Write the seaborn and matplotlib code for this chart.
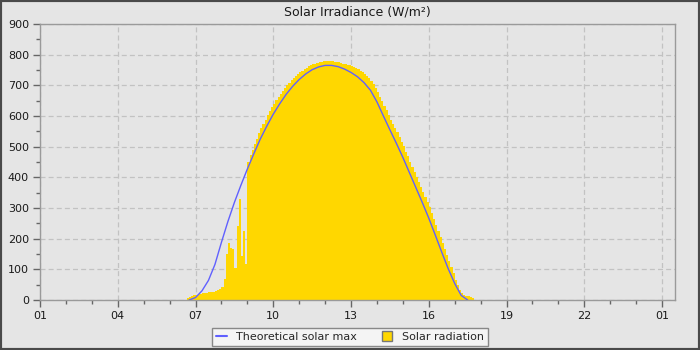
import numpy as np
import pandas as pd
import matplotlib
matplotlib.use("Agg")
import matplotlib.pyplot as plt
import seaborn as sns
from matplotlib.lines import Line2D
from matplotlib.patches import Rectangle
from matplotlib.ticker import MultipleLocator, FixedLocator

# ---------------- data ----------------
# Theoretical solar max, every 15 minutes starting 06:45
theo_start_hour = 6.75
theo_step_hours = 0.25
theo_max = [0, 8, 30, 64, 116, 188, 256, 318, 374, 427,
            477, 525, 567, 606, 640, 671, 697, 719, 737, 751,
            760, 765, 765, 761, 753, 742, 728, 709, 684, 646,
            600, 555, 511, 465, 416, 367, 318, 267, 212, 156,
            102, 54, 15, 0]

# Measured solar radiation, every 5 minutes starting 06:40
rad_start_hour = 6 + 40 / 60
rad_step_hours = 5 / 60
solar_rad = [5, 9, 12, 15,
             17, 19, 21, 22, 23, 24, 26, 27, 27, 28, 31, 36,
             42, 70, 150, 185, 170, 165, 105, 240, 330, 145, 225, 118,
             450, 472, 490, 509, 526, 543, 560, 574, 588, 602, 615, 628,
             640, 651, 662, 673, 682, 692, 701, 709, 716, 724, 730, 737,
             743, 748, 753, 758, 762, 765, 768, 771, 773, 775, 777, 778,
             779, 779, 779, 778, 777, 776, 775, 773, 771, 769, 767, 765,
             762, 759, 756, 752, 748, 743, 738, 731, 723, 714, 703, 690,
             677, 662, 648, 633, 618, 603, 588, 574, 561, 547, 532, 516,
             501, 484, 468, 451, 435, 418, 402, 386, 370, 353, 336, 319,
             302, 283, 264, 244, 225, 206, 186, 167, 147, 128, 108, 88,
             66, 48, 33, 24, 16, 14, 12, 9, 7]

x_tick_hours = [1, 4, 7, 10, 13, 16, 19, 22, 25]
x_tick_labels = ["01", "04", "07", "10", "13", "16", "19", "22", "01"]
y_ticks = [0, 100, 200, 300, 400, 500, 600, 700, 800, 900]

title = "Solar Irradiance (W/m²)"
series_names = ["Theoretical solar max", "Solar radiation"]

# ---------------- style ----------------
sns.set_theme(style="ticks")
plt.rcParams["font.family"] = ["DejaVu Sans"]

BG = "#e5e5e5"
GOLD = "#ffd700"
BLUE = "#6060ff"
SPINE = "#9a9a9a"

fig = plt.figure(figsize=(7, 3.5), dpi=100, facecolor=BG)
ax = fig.add_axes([40 / 700, 50 / 350, 635 / 700, 276 / 350])
ax.set_facecolor(BG)

theo_hours = theo_start_hour + np.arange(len(theo_max)) * theo_step_hours
rad_hours = rad_start_hour + np.arange(len(solar_rad)) * rad_step_hours
rad_end_hour = rad_start_hour + len(solar_rad) * rad_step_hours

df_rad = pd.DataFrame({"hour": rad_hours + rad_step_hours / 2, "rad": solar_rad})
df_theo = pd.DataFrame({"hour": theo_hours, "theo": theo_max})

sns.histplot(data=df_rad, x="hour", weights="rad", binwidth=rad_step_hours,
             binrange=(rad_start_hour, rad_end_hour), element="step",
             fill=True, color=GOLD, alpha=1, linewidth=0, ax=ax, zorder=2)
sns.lineplot(data=df_theo, x="hour", y="theo", color=BLUE, linewidth=1.0,
             ax=ax, zorder=3)

ax.set_xlim(1, 25.5)
ax.set_ylim(0, 900)
ax.set_xlabel("")
ax.set_ylabel("")

ax.xaxis.set_major_locator(FixedLocator(x_tick_hours))
ax.set_xticklabels(x_tick_labels)
ax.xaxis.set_minor_locator(MultipleLocator(1))
ax.yaxis.set_major_locator(FixedLocator(y_ticks))
ax.set_yticklabels([str(v) for v in y_ticks])
ax.yaxis.set_minor_locator(MultipleLocator(50))

ax.tick_params(which="major", length=5, width=1, color="#666666",
               labelsize=8, labelcolor="#1a1a1a", pad=3)
ax.tick_params(which="minor", length=3, width=1, color="#666666")

ax.grid(True, which="major", color="#c2c2c2", linestyle=(0, (4, 2.5)),
        linewidth=0.9)
ax.set_axisbelow(True)
for s in ax.spines.values():
    s.set_color(SPINE)
    s.set_linewidth(1)
    s.set_visible(True)

ax.set_title(title, fontsize=9, color="#1a1a1a", pad=6)

handles = [Line2D([], [], color=BLUE, lw=1.5),
           Line2D([], [], marker="s", ls="None", markerfacecolor=GOLD,
                  markeredgecolor="#777777", markersize=7)]
leg = fig.legend(handles, series_names, loc="center",
                 bbox_to_anchor=(0.5, 13 / 350), ncol=2, fontsize=8,
                 frameon=True, fancybox=False, edgecolor="#888888",
                 facecolor="#f4f4f4", framealpha=1, handlelength=1.0,
                 columnspacing=2.2, borderpad=0.35, handletextpad=0.8)
leg.get_frame().set_linewidth(1)

fig.patches.append(Rectangle((0, 0), 1, 1, transform=fig.transFigure,
                             fill=False, edgecolor="#4a4a4a", linewidth=3,
                             zorder=10))

fig.savefig("out.png", dpi=100, facecolor=fig.get_facecolor())
